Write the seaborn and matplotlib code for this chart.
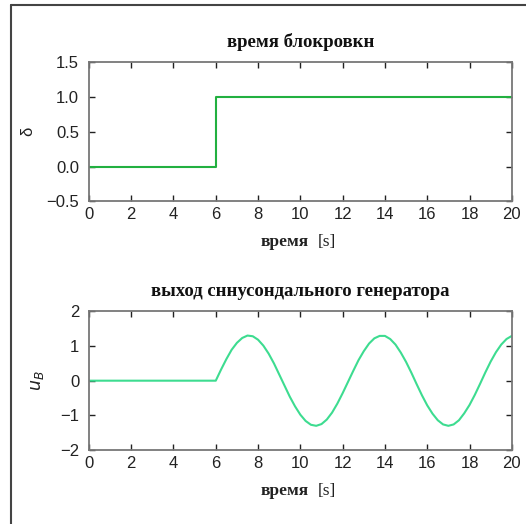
import seaborn as sns
import matplotlib.pyplot as plt
from matplotlib.lines import Line2D

# время блокровки (ступенька)
t_step = [0, 6, 6, 20]
delta = [0, 0, 1, 1]

# выход синусоидального генератора
t_gen = [0, 6, 6.25, 6.5, 6.75, 7, 7.25, 7.5, 7.75, 8, 8.25, 8.5, 8.75, 9,
         9.25, 9.5, 9.75, 10, 10.25, 10.5, 10.75, 11, 11.25, 11.5, 11.75, 12,
         12.25, 12.5, 12.75, 13, 13.25, 13.5, 13.75, 14, 14.25, 14.5, 14.75,
         15, 15.25, 15.5, 15.75, 16, 16.25, 16.5, 16.75, 17, 17.25, 17.5,
         17.75, 18, 18.25, 18.5, 18.75, 19, 19.25, 19.5, 19.75, 20]
u_b = [0, 0, 0.32, 0.62, 0.89, 1.09, 1.23, 1.30, 1.28, 1.18, 1.01, 0.78, 0.50,
       0.18, -0.14, -0.46, -0.74, -0.98, -1.16, -1.27, -1.30, -1.25, -1.12,
       -0.92, -0.66, -0.36, -0.04, 0.28, 0.59, 0.85, 1.07, 1.22, 1.29, 1.29,
       1.20, 1.04, 0.81, 0.54, 0.23, -0.10, -0.42, -0.71, -0.95, -1.14,
       -1.26, -1.30, -1.26, -1.14, -0.94, -0.70, -0.41, -0.09, 0.24, 0.55,
       0.82, 1.04, 1.20, 1.29]

x_ticks = [0, 2, 4, 6, 8, 10, 12, 14, 16, 18, 20]

sns.set_style('ticks')
plt.rcParams['font.family'] = ['Liberation Sans', 'DejaVu Sans']

fig = plt.figure(figsize=(5.26, 5.24), dpi=100)
ax1 = fig.add_axes([0.169, 0.616, 0.804, 0.265])
ax2 = fig.add_axes([0.169, 0.141, 0.804, 0.265])

sns.lineplot(x=t_step, y=delta, ax=ax1, color='#22b040', linewidth=1.5,
             sort=False, estimator=None)
sns.lineplot(x=t_gen, y=u_b, ax=ax2, color='#3ddc90', linewidth=1.5,
             sort=False, estimator=None)

serif = ['Liberation Serif', 'DejaVu Serif']

for ax in (ax1, ax2):
    ax.set_xlim(0, 20)
    ax.set_xticks(x_ticks)
    ax.tick_params(direction='in', top=True, right=True, length=4,
                   width=1, labelsize=12, color='#222222', labelcolor='#222222')
    ax.tick_params(axis='x', pad=4)
    ax.tick_params(axis='y', pad=7)
    for s in ax.spines.values():
        s.set_visible(True)
        s.set_color('#777777')
        s.set_linewidth(1.3)
    ax.set_xlabel('')
    # подпись оси: "время" жирным, "[s]" обычным
    ax.text(0.519, -0.295, 'время', transform=ax.transAxes, ha='right',
            va='center', family=serif, weight='bold', fontsize=12.5,
            color='#222222')
    ax.text(0.540, -0.295, '[s]', transform=ax.transAxes, ha='left',
            va='center', family=serif, fontsize=12.5, color='#222222')

ax1.set_ylim(-0.5, 1.5)
ax1.set_yticks([-0.5, 0.0, 0.5, 1.0, 1.5])
ax1.set_yticklabels(['−0.5', '0.0', '0.5', '1.0', '1.5'])
ax1.set_ylabel('δ', fontsize=12, labelpad=8, color='#222222')
ax1.set_title('время блокровкн', family=serif, weight='bold', fontsize=13.5,
              pad=11, color='#111111')

ax2.set_ylim(-2, 2)
ax2.set_yticks([-2, -1, 0, 1, 2])
ax2.set_ylabel('$u_B$', fontsize=12.5, labelpad=10, color='#222222')
ax2.set_title('выход сннусондального генератора', family=serif,
              weight='bold', fontsize=13.5, pad=11, color='#111111')

# рамка вокруг рисунка
fig.add_artist(Line2D([0.021, 0.021], [0.0, 0.990], transform=fig.transFigure,
                      color='#444444', linewidth=1.5))
fig.add_artist(Line2D([0.021, 1.0], [0.990, 0.990], transform=fig.transFigure,
                      color='#444444', linewidth=1.5))

plt.savefig('out.png', dpi=100)
